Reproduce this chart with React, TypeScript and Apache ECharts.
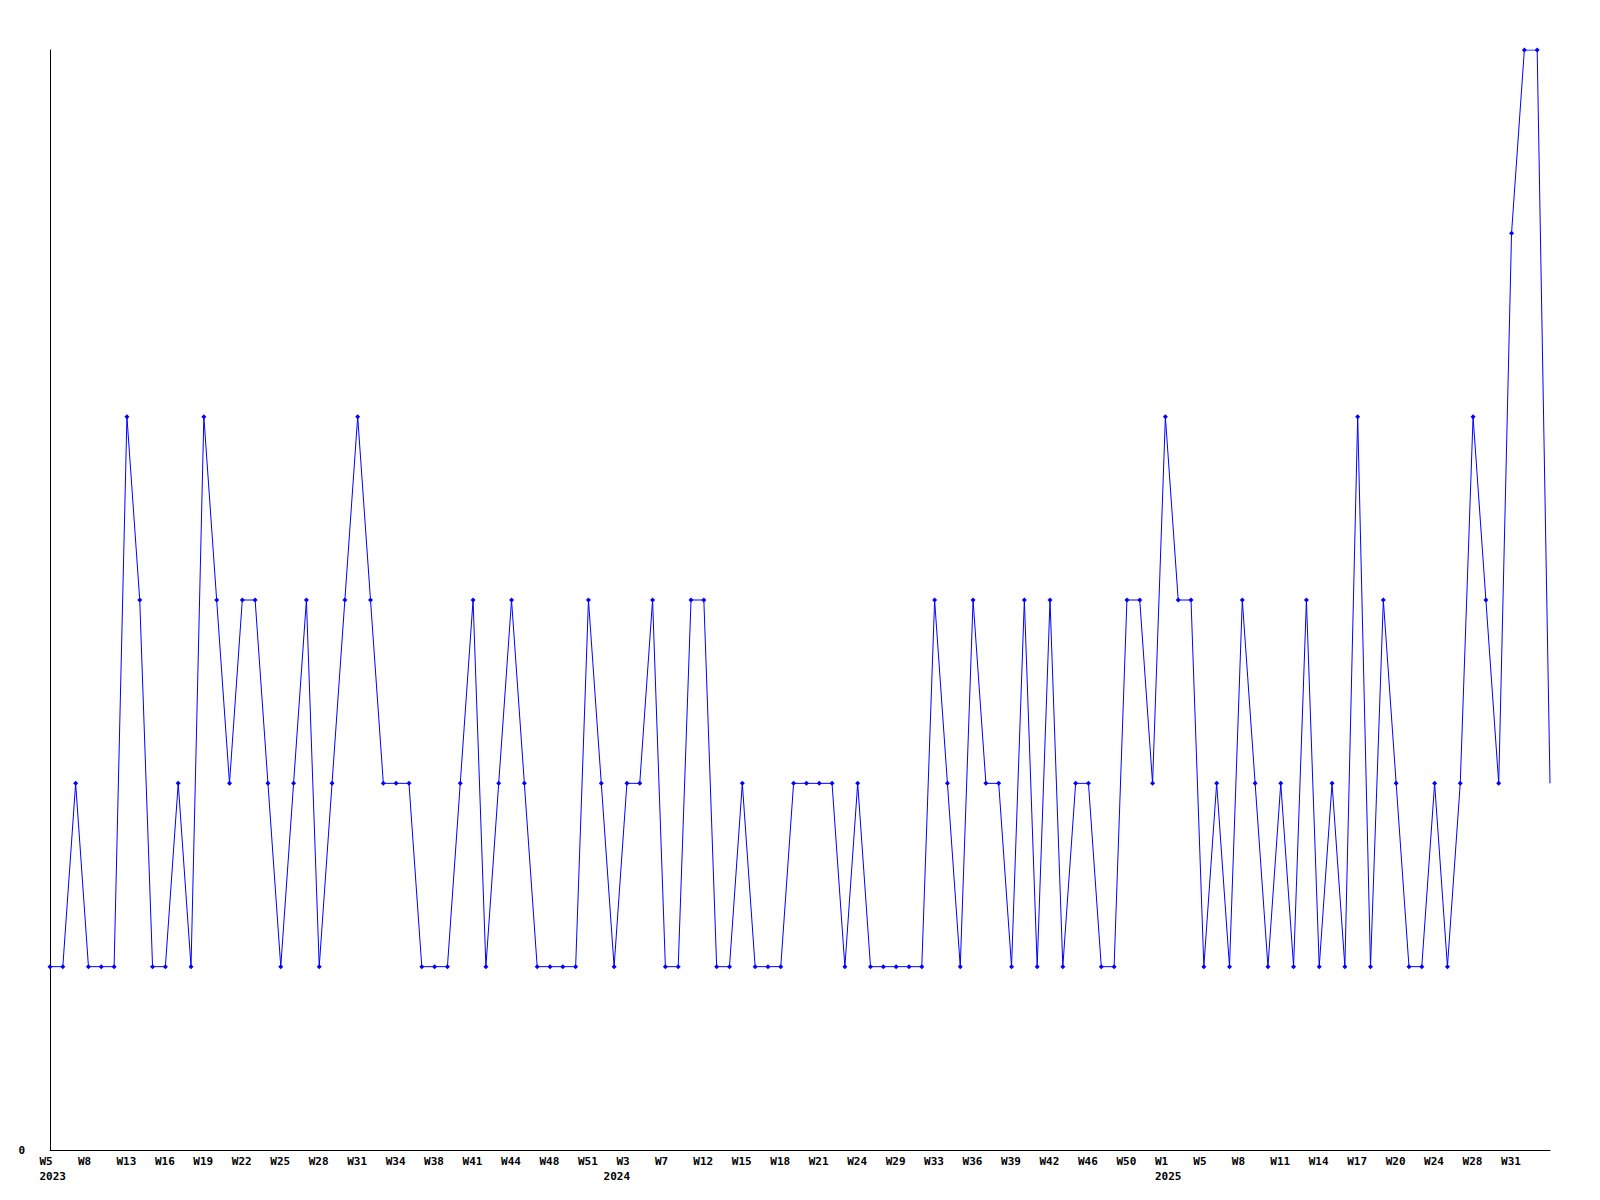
import React, { useEffect, useRef } from "react";
import * as echarts from "echarts";

// Week categories (only every third one is labelled on the axis)
const weeks: string[] = [
  "W5", "W6", "W7", "W8", "W10", "W11", "W13", "W14", "W15", "W16",
  "W17", "W18", "W19", "W20", "W21", "W22", "W23", "W24", "W25", "W26",
  "W27", "W28", "W29", "W30", "W31", "W32", "W33", "W34", "W35", "W37",
  "W38", "W39", "W40", "W41", "W42", "W43", "W44", "W45", "W47", "W48",
  "W49", "W50", "W51", "W52", "W1", "W3", "W5", "W6", "W7", "W9",
  "W10", "W12", "W13", "W14", "W15", "W16", "W17", "W18", "W19", "W20",
  "W21", "W22", "W23", "W24", "W26", "W27", "W29", "W31", "W32", "W33",
  "W34", "W35", "W36", "W37", "W38", "W39", "W40", "W41", "W42", "W44",
  "W45", "W46", "W48", "W49", "W50", "W51", "W52", "W1", "W2", "W3",
  "W5", "W6", "W7", "W8", "W9", "W10", "W11", "W12", "W13", "W14",
  "W15", "W16", "W17", "W18", "W19", "W20", "W21", "W23", "W24", "W25",
  "W27", "W28", "W29", "W30", "W31", "W32", "W33", "W34",
];

// Weekly counts
const counts: number[] = [
  1, 1, 2, 1, 1, 1, 4, 3, 1, 1,
  2, 1, 4, 3, 2, 3, 3, 2, 1, 2,
  3, 1, 2, 3, 4, 3, 2, 2, 2, 1,
  1, 1, 2, 3, 1, 2, 3, 2, 1, 1,
  1, 1, 3, 2, 1, 2, 2, 3, 1, 1,
  3, 3, 1, 1, 2, 1, 1, 1, 2, 2,
  2, 2, 1, 2, 1, 1, 1, 1, 1, 3,
  2, 1, 3, 2, 2, 1, 3, 1, 3, 1,
  2, 2, 1, 1, 3, 3, 2, 4, 3, 3,
  1, 2, 1, 3, 2, 1, 2, 1, 3, 1,
  2, 1, 4, 1, 3, 2, 1, 1, 2, 1,
  2, 4, 3, 2, 5, 6, 6, 2,
];

// Year labels and the category index of the first week of each year
const yearLabels: string[] = ["2023", "2024", "2025"];
const yearStartIdx: number[] = [0, 44, 87];

// Y-axis tick labels shown (only the zero)
const yTickLabels: string[] = ["0"];

const FONT = "'DejaVu Sans Mono', 'Liberation Mono', monospace";

const labelRich = {
  a: {
    width: 21,
    align: "left",
    fontFamily: FONT,
    fontSize: 11,
    fontWeight: "bold",
    color: "#000000",
    lineHeight: 15,
  },
};

export default function App() {
  const ref = useRef<HTMLDivElement>(null);

  useEffect(() => {
    if (!ref.current) return;
    const chart = echarts.init(ref.current, undefined, { renderer: "svg" });
    const lastIdx = counts.length - 1;
    const yearAxisData = weeks.map((_, i) => {
      const k = yearStartIdx.indexOf(i);
      return k >= 0 ? yearLabels[k] : "";
    });
    chart.setOption({
      animation: false,
      backgroundColor: "#ffffff",
      grid: { left: 50, right: 50, top: 50, bottom: 50, containLabel: false },
      xAxis: [
        {
          type: "category",
          data: weeks,
          boundaryGap: false,
          axisLine: { show: true, lineStyle: { color: "#000000", width: 1 } },
          axisTick: { show: false },
          splitLine: { show: false },
          axisLabel: {
            interval: 2,
            showMaxLabel: false,
            showMinLabel: true,
            margin: 4,
            align: "center",
            formatter: (v: string) => `{a|${v}}`,
            rich: labelRich,
          },
        },
        {
          type: "category",
          data: yearAxisData,
          position: "bottom",
          offset: 15,
          boundaryGap: false,
          axisLine: { show: false },
          axisTick: { show: false },
          splitLine: { show: false },
          axisLabel: {
            interval: (_i: number, v: string) => v !== "",
            margin: 4,
            align: "center",
            formatter: (v: string) => (v ? `{a|${v}}` : ""),
            rich: labelRich,
          },
        },
      ],
      yAxis: {
        type: "value",
        min: 0,
        max: 6,
        interval: 1,
        axisLine: { show: true, lineStyle: { color: "#000000", width: 1 } },
        axisTick: { show: false },
        splitLine: { show: false },
        axisLabel: {
          margin: 25,
          fontFamily: FONT,
          fontSize: 11,
          fontWeight: "bold",
          color: "#000000",
          formatter: (v: number) => (v === 0 ? yTickLabels[0] : ""),
        },
      },
      series: [
        {
          type: "line",
          xAxisIndex: 0,
          data: counts.map((c, i) =>
            i === lastIdx ? { value: c, symbol: "none" } : c
          ),
          symbol: "diamond",
          symbolSize: 5,
          showAllSymbol: true,
          lineStyle: { color: "#0000ff", width: 1 },
          itemStyle: { color: "#0000ff" },
        },
      ],
    });
    return () => chart.dispose();
  }, []);

  return (
    <div
      ref={ref}
      style={{
        position: "absolute",
        left: 0,
        top: 0,
        width: 1600,
        height: 1200,
        background: "#ffffff",
      }}
    />
  );
}
